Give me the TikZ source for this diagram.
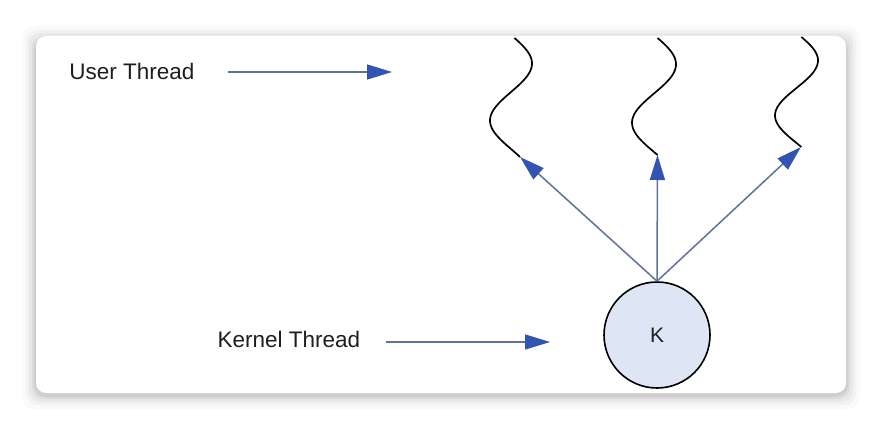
\documentclass[tikz,border=0pt]{standalone}
\usepackage{fontspec}
\setmainfont{Liberation Sans}
\usetikzlibrary{arrows.meta}

\definecolor{stemcol}{RGB}{95,115,150}
\definecolor{headcol}{RGB}{50,85,180}
\definecolor{kfill}{RGB}{222,230,245}
\definecolor{txtcol}{RGB}{30,30,30}

\tikzset{
  lbl/.style={font=\fontsize{22.5}{26}\selectfont, text=txtcol, inner sep=0pt},
  thread arrow/.style={draw=stemcol, line width=1.5pt,
    -{Triangle[length=25pt, width=15pt, color=headcol]}},
  wave/.style={line width=1.7pt, black, samples=60, variable=\t},
}

\begin{document}
\begin{tikzpicture}[x=1pt, y=-1pt]
  \useasboundingbox (0, 0) rectangle (882, 430);
  \fill[white] (0, 0) rectangle (882, 430);

  % card with soft shadow
  \foreach \s/\o in {14/.02, 10/.03, 7/.04, 4/.05, 2/.06}
  {
    \fill[black, opacity=\o, rounded corners=12pt]
      (36-\s, 40-\s) rectangle (846+\s, 395+\s);
  }
  \fill[white, rounded corners=10pt] (36, 36) rectangle (846, 393);

  % labels
  \node[lbl] (user) at (132, 71) {User Thread};
  \node[lbl] (kern) at (289, 339) {Kernel Thread};
  \coordinate (userA) at (228, 72);
  \coordinate (userB) at (392, 72);
  \coordinate (kernA) at (386, 342);
  \coordinate (kernB) at (550, 342);
  \draw[thread arrow] (userA) to (userB);
  \draw[thread arrow] (kernA) to (kernB);

  % kernel thread
  \node[circle, draw, line width=1.6pt, fill=kfill, minimum size=106pt,
        inner sep=0pt, font=\fontsize{21}{24}\selectfont, text=txtcol]
        (K) at (657, 335) {K};

  % user threads
  \coordinate (tipL) at (520, 157);
  \coordinate (tipM) at (657.5, 155);
  \coordinate (tipR) at (801, 147);

  \draw[wave] plot[domain=38:157] ({511+21*sin(3.158*(\t-35))}, \t);
  \draw[wave] plot[domain=38:155] ({654+22*sin(3.077*(\t-35))}, \t);
  \draw[wave] plot[domain=37:147] ({796.5+21.5*sin(3.273*(\t-33))}, \t);

  \foreach \t in {tipL, tipM, tipR}
  {
    \draw[thread arrow] (K.north) to (\t);
  }
\end{tikzpicture}
\end{document}
